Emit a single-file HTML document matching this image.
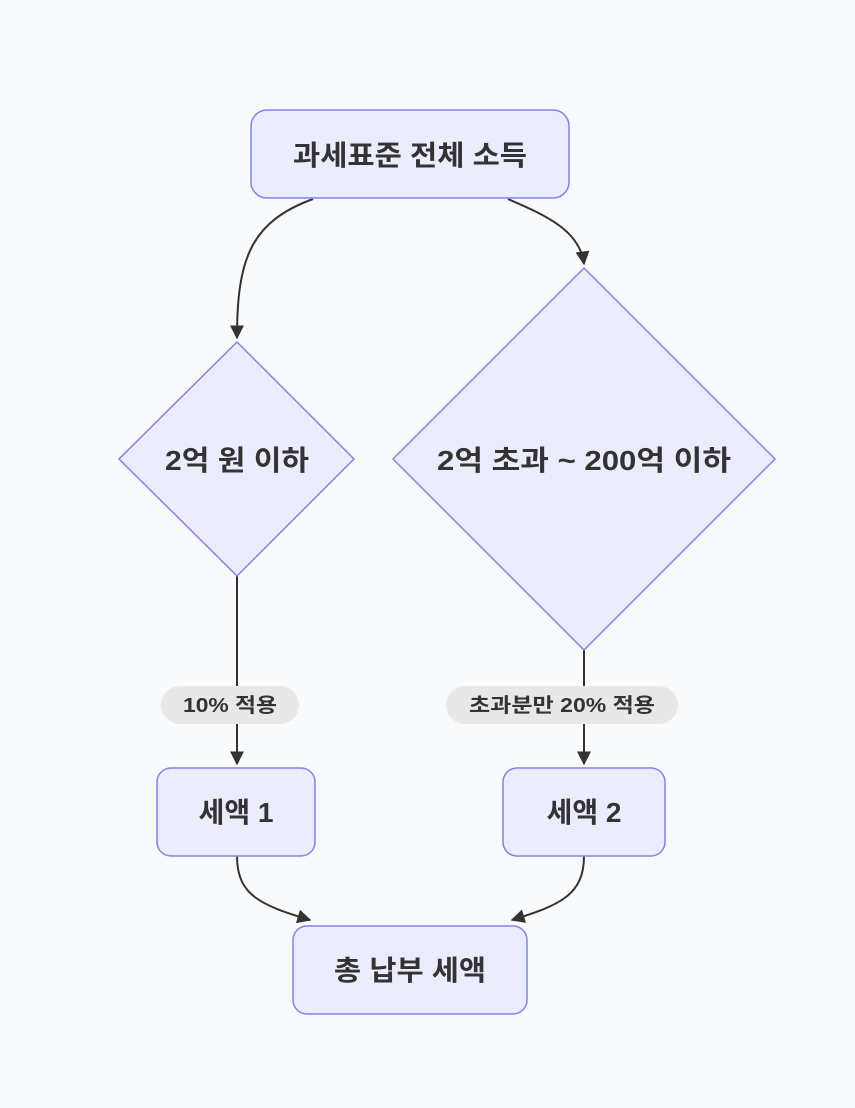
<!DOCTYPE html>
<html><head><meta charset="utf-8"><style>
body{margin:0;background:#f8fafc;}
svg text{font-family:"Liberation Sans","Noto Sans CJK KR",sans-serif;fill:#333;}
</style></head><body>
<svg width="855" height="1103" viewBox="0 0 855 1103" xmlns="http://www.w3.org/2000/svg">
<defs><marker id="a" viewBox="0 0 10 10" refX="9" refY="5" markerWidth="7" markerHeight="7" orient="auto"><path d="M0,0L10,5L0,10z" fill="#333"/></marker></defs>
<g fill="none" stroke="#333" stroke-width="2">
<path d="M313,199 C250,222 237,260 237,338" marker-end="url(#a)"/>
<path d="M508,199 C550,217 580,232 584,264" marker-end="url(#a)"/>
<path d="M237,576 L237,764" marker-end="url(#a)"/>
<path d="M584,650 L584,764" marker-end="url(#a)"/>
<path d="M237,856 C237,895 260,905 310,920" marker-end="url(#a)"/>
<path d="M584,856 C584,895 560,905 512,920" marker-end="url(#a)"/>
</g>
<g fill="#ececff" stroke="#8282ee" stroke-width="1.5">
<rect x="251" y="110" width="318" height="88" rx="16"/>
<polygon points="237,342 354,459 237,576 119,459"/>
<polygon points="584,268 775,459 584,650 393,459"/>
<rect x="157" y="768" width="158" height="88" rx="14"/>
<rect x="503" y="768" width="162" height="88" rx="14"/>
<rect x="293" y="926" width="234" height="88" rx="14"/>
</g>
<rect x="161" y="686" width="138" height="38" rx="19" fill="#e8e8e8"/>
<rect x="446" y="686" width="232" height="38" rx="19" fill="#e8e8e8"/>
<g font-size="28" font-weight="bold" text-anchor="middle">
<text x="410" y="165" textLength="234" lengthAdjust="spacingAndGlyphs">과세표준 전체 소득</text>
<text x="237" y="470" textLength="144" lengthAdjust="spacingAndGlyphs">2억 원 이하</text>
<text x="584" y="470" textLength="294" lengthAdjust="spacingAndGlyphs">2억 초과 ~ 200억 이하</text>
<text x="236" y="822">세액 1</text>
<text x="584" y="822">세액 2</text>
<text x="410" y="980" textLength="152" lengthAdjust="spacingAndGlyphs">총 납부 세액</text>
</g>
<g font-size="20" font-weight="600" text-anchor="middle">
<text x="230" y="712" textLength="94" lengthAdjust="spacingAndGlyphs">10% 적용</text>
<text x="562" y="712" textLength="186" lengthAdjust="spacingAndGlyphs">초과분만 20% 적용</text>
</g>
</svg>
</body></html>
